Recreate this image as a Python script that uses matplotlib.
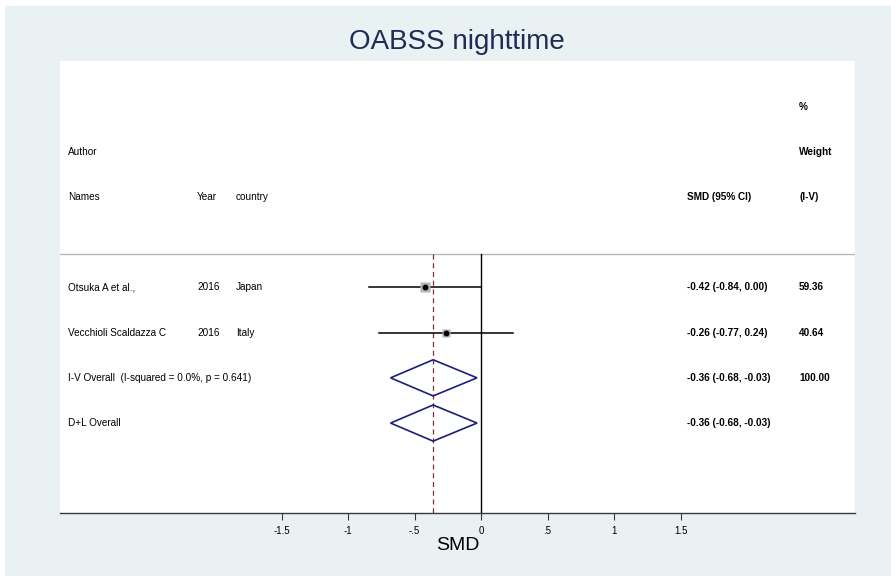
import matplotlib
matplotlib.use("Agg")
import matplotlib.pyplot as plt
from matplotlib.patches import Rectangle, Polygon

plt.rcParams['font.family'] = ['Liberation Sans', 'DejaVu Sans']

# Study-level data
names = ["Otsuka A et al.,", "Vecchioli Scaldazza C"]
years = ["2016", "2016"]
countries = ["Japan", "Italy"]
smd = [-0.42, -0.26]
ci_low = [-0.84, -0.77]
ci_high = [0.00, 0.24]
weights = [59.36, 40.64]

# Pooled estimates
pooled_labels = ["I-V Overall  (I-squared = 0.0%, p = 0.641)", "D+L Overall"]
pooled_smd = [-0.36, -0.36]
pooled_low = [-0.68, -0.68]
pooled_high = [-0.03, -0.03]
pooled_weight = ["100.00", ""]

xticks = [-1.5, -1, -0.5, 0, 0.5, 1, 1.5]
xtick_labels = ["-1.5", "-1", "-.5", "0", ".5", "1", "1.5"]

W, H = 891, 576
fig = plt.figure(figsize=(W / 100, H / 100), dpi=100, facecolor="white")

bg = "#e9f1f3"
fig.patches.append(Rectangle((5 / W, 0), 1 - 5 / W, 1 - 6 / H, transform=fig.transFigure,
                             facecolor=bg, edgecolor="none", zorder=-10))

left, right, top, bottom = 60, 855, 61, 513
ax = fig.add_axes([left / W, 1 - bottom / H, (right - left) / W, (bottom - top) / H])
ax.set_zorder(1)
ax.set_facecolor("white")

# x scale: 0 at pixel 481, one unit = 133 px
x0_px, unit = 481, 133.0
ax.set_xlim((left - x0_px) / unit, (right - x0_px) / unit)
ax.set_ylim(4.99, -5.01)

for s in ["top", "right", "left"]:
    ax.spines[s].set_visible(False)
ax.spines["bottom"].set_color("#3a3a3a")
ax.spines["bottom"].set_linewidth(1.0)
ax.set_yticks([])
ax.set_xticks(xticks)
ax.set_xticklabels(xtick_labels, fontsize=7)
ax.tick_params(axis="x", length=5, width=0.8, color="#3a3a3a", pad=4)
ax.set_xlabel("SMD", fontsize=14, labelpad=1)

fs = 7.2
tr = ax.get_yaxis_transform()  # x in axes fraction, y in data


def col(px):
    return (px - left) / (right - left)


name_x, year_x, country_x, est_x, wt_x = col(68), col(197), col(236), col(687), col(799)

# Header block
ax.text(wt_x, -4, "%", transform=tr, fontsize=fs, fontweight="bold", va="center")
ax.text(name_x, -3, "Author", transform=tr, fontsize=fs, va="center")
ax.text(wt_x, -3, "Weight", transform=tr, fontsize=fs, fontweight="bold", va="center")
ax.text(name_x, -2, "Names", transform=tr, fontsize=fs, va="center")
ax.text(year_x, -2, "Year", transform=tr, fontsize=fs, va="center")
ax.text(country_x, -2, "country", transform=tr, fontsize=fs, va="center")
ax.text(est_x, -2, "SMD (95% CI)", transform=tr, fontsize=fs, fontweight="bold", va="center")
ax.text(wt_x, -2, "(I-V)", transform=tr, fontsize=fs, fontweight="bold", va="center")
ax.axhline(-0.75, color="#b8b8b8", lw=1.0)

# Reference lines
ax.plot([0, 0], [-0.75, 4.99], color="black", lw=1.0, zorder=2)
ax.plot([pooled_smd[0]] * 2, [-0.75, 4.99], color="#8b2a2a", lw=0.9,
        ls=(0, (4, 3)), zorder=2)

# Studies
max_w = max(weights)
for i, (n, yr, c, m, lo, hi, w) in enumerate(zip(names, years, countries, smd,
                                                   ci_low, ci_high, weights)):
    ax.plot([lo, hi], [i, i], color="black", lw=1.1, zorder=3)
    size = 7.0 * (w / max_w) ** 0.5
    ax.plot(m, i, marker="s", ms=size, color="#b4b4b4", mec="none", zorder=4)
    ax.plot(m, i, marker="o", ms=3.2, color="black", zorder=5)
    ax.text(name_x, i, n, transform=tr, fontsize=fs, va="center")
    ax.text(year_x, i, yr, transform=tr, fontsize=fs, va="center")
    ax.text(country_x, i, c, transform=tr, fontsize=fs, va="center")
    ax.text(est_x, i, f"{m:.2f} ({lo:.2f}, {hi:.2f})", transform=tr,
            fontsize=fs, fontweight="bold", va="center")
    ax.text(wt_x, i, f"{w:.2f}", transform=tr, fontsize=fs,
            fontweight="bold", va="center")

# Pooled diamonds
for j, (lab, m, lo, hi, w) in enumerate(zip(pooled_labels, pooled_smd, pooled_low,
                                             pooled_high, pooled_weight)):
    y = len(names) + j
    h = 0.4
    ax.add_patch(Polygon([[lo, y], [m, y - h], [hi, y], [m, y + h]], closed=True,
                         fill=False, edgecolor="#1b1f78", lw=1.2, zorder=4))
    ax.text(name_x, y, lab, transform=tr, fontsize=fs, va="center")
    ax.text(est_x, y, f"{m:.2f} ({lo:.2f}, {hi:.2f})", transform=tr,
            fontsize=fs, fontweight="bold", va="center")
    if w:
        ax.text(wt_x, y, w, transform=tr, fontsize=fs, fontweight="bold", va="center")

fig.text(457 / W, 1 - 42 / H, "OABSS nighttime", ha="center", va="center",
         fontsize=20, color="#1e2d55", zorder=2)

fig.savefig("out.png", dpi=100, facecolor=fig.get_facecolor())
